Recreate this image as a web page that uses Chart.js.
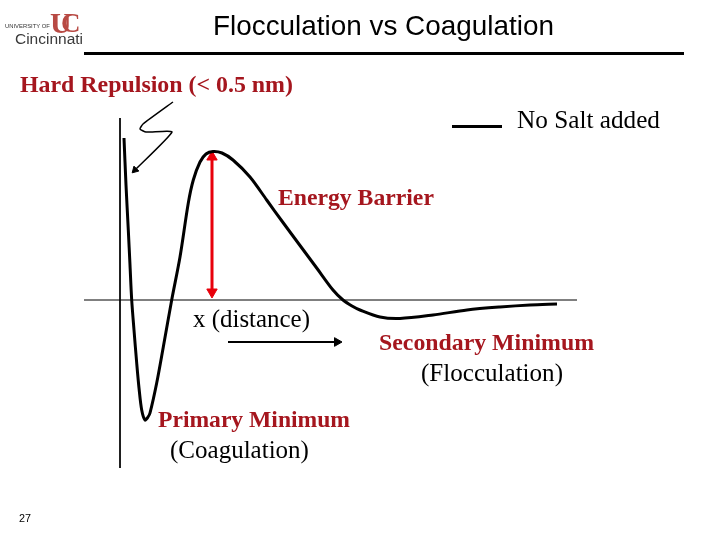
<!DOCTYPE html>
<html>
<head>
<meta charset="utf-8">
<script src="https://cdn.jsdelivr.net/npm/chart.js@4"></script>
<style>
  html, body { margin: 0; padding: 0; background: #ffffff; }
  #c { display: block; }
</style>
</head>
<body>
<canvas id="c" width="720" height="540"></canvas>
<script>
// ---- data (distance x, energy y) ----
const curveX = [0.4, 0.6, 0.83, 1.0, 1.17, 1.4, 1.67, 1.9, 2.17, 2.5, 2.8, 3.0, 3.67, 4.33, 5.17, 6.0, 6.83, 7.33, 8.0, 8.6, 9.3, 10.2, 11.3, 13.0, 14.67, 16.3, 18.0, 19.67, 21.3, 22.3, 23.2, 24.0, 26.0, 28.0, 31.3, 34.7, 38.0, 41.0, 43.7];
const curveY = [16.2, 11.5, 7.0, 3.5, 0.0, -3.0, -6.3, -8.8, -11.0, -12.0, -11.7, -11.3, -8.3, -4.7, 0.0, 4.3, 9.7, 12.0, 13.8, 14.6, 14.85, 14.7, 14.0, 12.3, 10.0, 7.75, 5.45, 3.2, 1.0, 0.0, -0.6, -1.0, -1.7, -1.85, -1.5, -1.0, -0.7, -0.5, -0.4];

const xAxisX = [-3.6, 45.7];
const xAxisY = [0, 0];
const yAxisX = [0, 0];
const yAxisY = [18.2, -16.8];

const barrierX = [9.2, 9.2];
const barrierY = [14.3, 0.8];

const repulsionX = [5.3, 2.3, 2.0, 2.6, 5.2, 1.5];
const repulsionY = [19.8, 17.6, 17.1, 16.8, 16.8, 13.0];

const distanceX = [10.8, 21.7];
const distanceY = [-4.2, -4.2];

const legendLabel = 'No Salt added';
const titleText = 'Flocculation vs Coagulation';
const pageNumber = '27';

function pts(xs, ys) { return xs.map((x, i) => ({ x: x, y: ys[i] })); }

const RED = '#A5161E';

function fitText(ctx, s, x0, x1, yc, weight, family, color) {
  ctx.font = weight + ' 20px ' + family;
  const w = ctx.measureText(s).width;
  const size = 20 * (x1 - x0) / w;
  ctx.font = weight + ' ' + size.toFixed(2) + 'px ' + family;
  ctx.fillStyle = color;
  ctx.textBaseline = 'middle';
  ctx.textAlign = 'left';
  ctx.fillText(s, x0, yc);
}

const decor = {
  id: 'decor',
  afterDraw(chart) {
    const ctx = chart.ctx;
    ctx.save();
    const serif = '"Liberation Serif", "Times New Roman", serif';
    const sans = '"Liberation Sans", Arial, sans-serif';
    // title + rule
    fitText(ctx, titleText, 213, 554, 27, 'normal', sans, '#000');
    ctx.strokeStyle = '#000';
    ctx.lineWidth = 3;
    ctx.beginPath(); ctx.moveTo(84, 53.5); ctx.lineTo(684, 53.5); ctx.stroke();
    // logo
    fitText(ctx, 'UNIVERSITY OF', 5, 50, 26, 'normal', sans, '#333');
    fitText(ctx, 'Cincinnati', 15, 83, 40, 'normal', sans, '#3a3a3a');
    ctx.font = 'bold 30px ' + serif;
    ctx.fillStyle = '#B84A44';
    ctx.textBaseline = 'alphabetic';
    ctx.fillText('U', 50, 33);
    ctx.font = 'bold 27px ' + serif;
    ctx.fillText('C', 61, 32);
    // labels
    fitText(ctx, 'Hard Repulsion (< 0.5 nm)', 20, 293, 86, 'bold', serif, RED);
    fitText(ctx, 'Energy Barrier', 278, 434, 199, 'bold', serif, RED);
    fitText(ctx, 'x (distance)', 193, 310, 320, 'normal', serif, '#000');
    fitText(ctx, 'Secondary Minimum', 379, 594, 344, 'bold', serif, RED);
    fitText(ctx, '(Flocculation)', 421, 563, 374, 'normal', serif, '#000');
    fitText(ctx, 'Primary Minimum', 158, 350, 421, 'bold', serif, RED);
    fitText(ctx, '(Coagulation)', 170, 309, 451, 'normal', serif, '#000');
    // legend
    ctx.strokeStyle = '#000';
    ctx.lineWidth = 3;
    ctx.beginPath(); ctx.moveTo(452, 126.5); ctx.lineTo(502, 126.5); ctx.stroke();
    fitText(ctx, legendLabel, 517, 660, 121, 'normal', serif, '#000');
    // page number
    fitText(ctx, pageNumber, 19, 31, 519, 'normal', sans, '#000');
    ctx.restore();
  }
};

new Chart(document.getElementById('c'), {
  type: 'line',
  data: {
    datasets: [
      { label: legendLabel, data: pts(curveX, curveY), borderColor: '#000', borderWidth: 3,
        tension: 0.3, pointRadius: 0, fill: false },
      { label: 'x axis', data: pts(xAxisX, xAxisY), borderColor: '#000', borderWidth: 1, pointRadius: 0 },
      { label: 'y axis', data: pts(yAxisX, yAxisY), borderColor: '#000', borderWidth: 1, pointRadius: 0 },
      { label: 'barrier', data: pts(barrierX, barrierY), borderColor: '#E8000B', backgroundColor: '#E8000B',
        borderWidth: 3, pointStyle: 'triangle', pointRadius: 6, pointRotation: [0, 180], pointBorderWidth: 1 },
      { label: 'repulsion', data: pts(repulsionX, repulsionY), borderColor: '#000', backgroundColor: '#000',
        borderWidth: 1.5, tension: 0.15, pointStyle: 'triangle', pointRadius: [0, 0, 0, 0, 0, 4],
        pointRotation: 225, pointBorderWidth: 1 },
      { label: 'distance', data: pts(distanceX, distanceY), borderColor: '#000', backgroundColor: '#000',
        borderWidth: 2, pointStyle: 'triangle', pointRadius: [0, 5], pointRotation: 90, pointBorderWidth: 1 }
    ]
  },
  options: {
    responsive: false,
    animation: false,
    devicePixelRatio: 1,
    layout: { padding: { left: 80, right: 120, top: 95, bottom: 60 } },
    scales: {
      x: { type: 'linear', min: -4, max: 48, display: false },
      y: { type: 'linear', min: -18, max: 20.5, display: false }
    },
    plugins: {
      legend: { display: false },
      tooltip: { enabled: false }
    },
    clip: false
  },
  plugins: [decor]
});
</script>
</body>
</html>
